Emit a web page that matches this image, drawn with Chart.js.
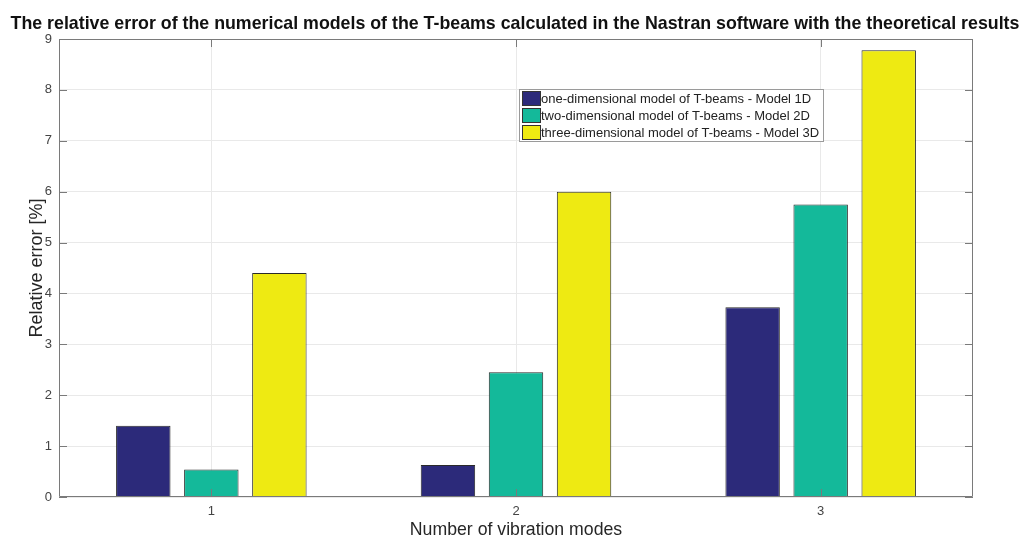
<!DOCTYPE html>
<html>
<head>
<meta charset="utf-8">
<script src="https://cdn.jsdelivr.net/npm/chart.js@4"></script>
<style>
  html, body { margin: 0; padding: 0; background: #fff; }
  #wrap { width: 1024px; height: 539px; }
</style>
</head>
<body>
<div id="wrap"><canvas id="errChart" width="1024" height="539"></canvas></div>
<script>
// data
const modes = ['1', '2', '3'];
const model1D = [1.40, 0.63, 3.73];
const model2D = [0.54, 2.45, 5.75];
const model3D = [4.40, 6.00, 8.78];
const seriesNames = [
    'one-dimensional model of T-beams - Model 1D',
    'two-dimensional model of T-beams - Model 2D',
    'three-dimensional model of T-beams - Model 3D'
];
const yTicks = [0, 1, 2, 3, 4, 5, 6, 7, 8, 9];
const chartTitle = 'The relative error of the numerical models of the T-beams calculated in the Nastran software with the theoretical results';

const fillColors = ['#2c2a7a', '#14b99a', '#eeea12'];
const axisColor = '#7a7a7a';
const textColor = '#444444';

// MATLAB-like box with inward ticks, title and legend
const boxPlugin = {
    id: 'boxPlugin',
    afterDatasetsDraw(chart) {
        const ctx = chart.ctx;
        const a = chart.chartArea;
        const x = chart.scales.x;
        const y = chart.scales.y;
        ctx.save();
        ctx.strokeStyle = axisColor;
        ctx.lineWidth = 1;
        ctx.beginPath();
        ctx.rect(a.left + 0.5, a.top + 0.5, a.right - a.left - 1, a.bottom - a.top - 1);
        ctx.stroke();
        ctx.beginPath();
        yTicks.forEach(function (v) {
            const py = Math.round(y.getPixelForValue(v)) + 0.5;
            ctx.moveTo(a.left, py); ctx.lineTo(a.left + 8, py);
            ctx.moveTo(a.right, py); ctx.lineTo(a.right - 8, py);
        });
        modes.forEach(function (m, i) {
            const px = Math.round(x.getPixelForValue(i)) + 0.5;
            ctx.moveTo(px, a.bottom); ctx.lineTo(px, a.bottom - 8);
            ctx.moveTo(px, a.top); ctx.lineTo(px, a.top + 8);
        });
        ctx.stroke();
        ctx.restore();
    },
    afterDraw(chart) {
        const ctx = chart.ctx;
        ctx.save();
        // title, centred on the whole figure
        ctx.font = 'bold 17.8px "Liberation Sans", Arial, sans-serif';
        ctx.fillStyle = '#111';
        ctx.textAlign = 'center';
        ctx.textBaseline = 'alphabetic';
        ctx.fillText(chartTitle, 515, 29);

        // legend box inside the axes, upper middle
        const left = 519, top = 89, w = 304, rowH = 17;
        ctx.textAlign = 'left';
        ctx.fillStyle = '#ffffff';
        ctx.fillRect(left, top, w, rowH * 3 + 1);
        ctx.strokeStyle = '#9a9a9a';
        ctx.lineWidth = 1;
        ctx.strokeRect(left + 0.5, top + 0.5, w, rowH * 3 + 1);
        ctx.font = '13px "Liberation Sans", Arial, sans-serif';
        ctx.textBaseline = 'middle';
        chart.data.datasets.forEach(function (ds, i) {
            const cy = top + 9 + i * rowH;
            ctx.fillStyle = ds.backgroundColor;
            ctx.fillRect(left + 3, cy - 7, 18, 14);
            ctx.strokeStyle = '#333';
            ctx.strokeRect(left + 3.5, cy - 6.5, 18, 14);
            ctx.fillStyle = '#222';
            ctx.fillText(ds.label, left + 22, cy + 1);
        });
        ctx.restore();
    }
};

const errCtx = document.getElementById('errChart');
new Chart(errCtx, {
    type: 'bar',
    data: {
        labels: modes,
        datasets: [
            { label: seriesNames[0], data: model1D, backgroundColor: fillColors[0] },
            { label: seriesNames[1], data: model2D, backgroundColor: fillColors[1] },
            { label: seriesNames[2], data: model3D, backgroundColor: fillColors[2] }
        ]
    },
    options: {
        responsive: false,
        animation: false,
        devicePixelRatio: 1,
        datasets: {
            bar: {
                categoryPercentage: 0.67,
                barPercentage: 0.8,
                borderColor: '#2a2a2a',
                borderWidth: 1
            }
        },
        layout: { padding: { left: 0, right: 51, top: 39, bottom: 0 } },
        scales: {
            x: {
                offset: true,
                grid: { offset: false, color: '#e9e9e9', drawTicks: false },
                border: { display: false },
                ticks: { color: textColor, font: { family: '"Liberation Sans", Arial', size: 13 }, padding: 7 },
                title: {
                    display: true, text: 'Number of vibration modes', color: '#262626',
                    font: { family: '"Liberation Sans", Arial', size: 17.7 }, padding: { top: 0, bottom: -2 }
                },
                afterFit: function (s) { s.height = 42; }
            },
            y: {
                min: 0, max: 9,
                grid: { color: '#e9e9e9', drawTicks: false },
                border: { display: false },
                ticks: { stepSize: 1, color: textColor, font: { family: '"Liberation Sans", Arial', size: 13 }, padding: 7 },
                title: {
                    display: true, text: 'Relative error [%]', color: '#262626',
                    font: { family: '"Liberation Sans", Arial', size: 18 }, padding: { top: 26, bottom: 0 }
                },
                afterFit: function (s) { s.width = 59; }
            }
        },
        plugins: {
            legend: { display: false },
            tooltip: { enabled: false },
            title: { display: false }
        }
    },
    plugins: [boxPlugin]
});
</script>
</body>
</html>
